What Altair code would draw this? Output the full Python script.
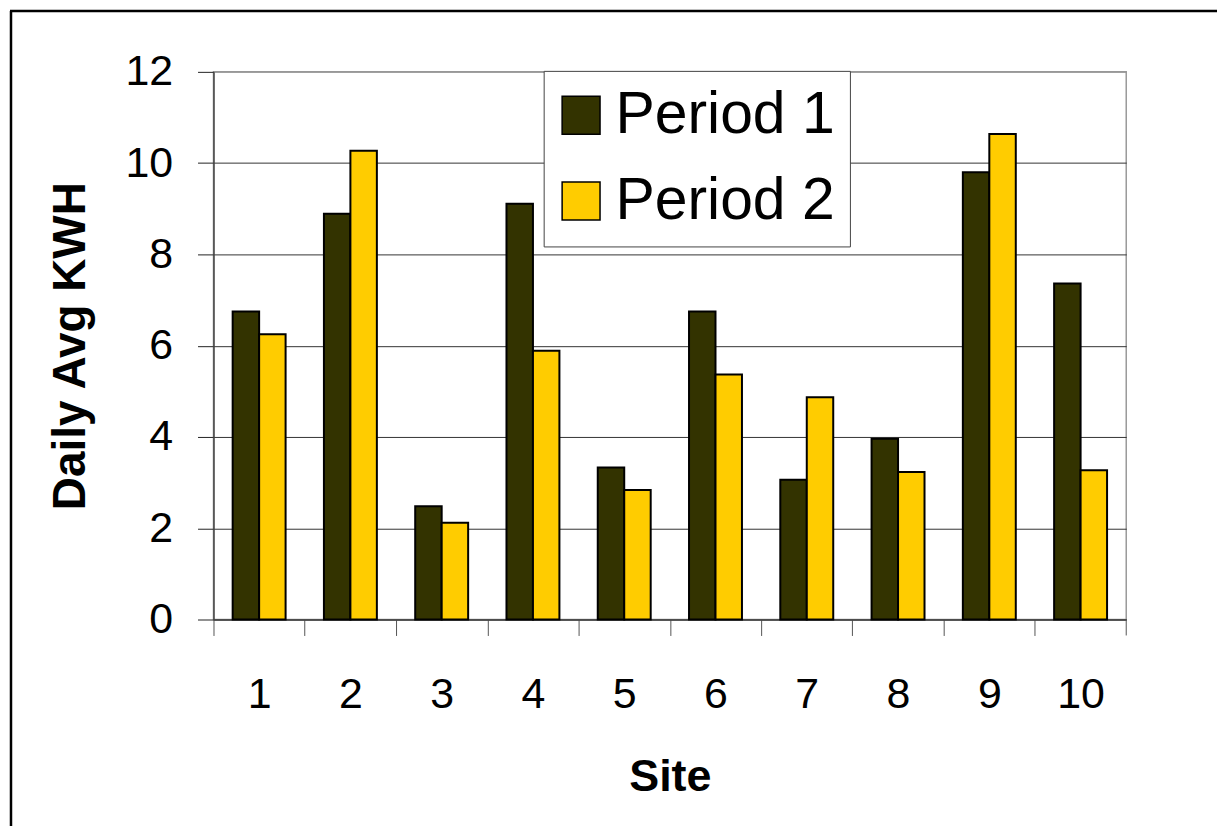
import altair as alt
import pandas as pd

sites = ["1", "2", "3", "4", "5", "6", "7", "8", "9", "10"]
period1 = [6.75, 8.89, 2.48, 9.11, 3.33, 6.75, 3.06, 3.96, 9.80, 7.36]
period2 = [6.25, 10.27, 2.12, 5.89, 2.84, 5.37, 4.87, 3.23, 10.64, 3.27]
periods = ["Period 1", "Period 2"]
colors = ["#333300", "#FFCC00"]
y_ticks = [0, 2, 4, 6, 8, 10, 12]

rows = []
for s, a, b in zip(sites, period1, period2):
    rows.append({"Site": s, "Period": periods[0], "KWH": a})
    rows.append({"Site": s, "Period": periods[1], "KWH": b})
df = pd.DataFrame(rows)

FONT = "Liberation Sans"
W, H = 915, 549
STEP = W / len(sites)

bars = alt.Chart(df).mark_bar(stroke="black", strokeWidth=2).encode(
    x=alt.X(
        "Site:N",
        sort=sites,
        scale=alt.Scale(paddingInner=0.42, paddingOuter=0.21),
        axis=alt.Axis(
            title="Site",
            labelAngle=0,
            labelFont=FONT,
            labelFontSize=43,
            labelColor="black",
            labelPadding=38,
            tickOffset=-STEP / 2,
            labelOffset=STEP / 2,
            tickSize=16,
            tickColor="#555555",
            tickWidth=1,
            domainColor="#444444",
            domainWidth=1.5,
            titleFont=FONT,
            titleFontSize=45,
            titleFontWeight="bold",
            titleColor="black",
            titlePadding=38,
        ),
    ),
    xOffset=alt.XOffset("Period:N", sort=periods, scale=alt.Scale(paddingInner=0, paddingOuter=0)),
    y=alt.Y(
        "KWH:Q",
        scale=alt.Scale(domain=[0, 12]),
        axis=alt.Axis(
            title="Daily Avg KWH",
            values=y_ticks,
            labelFont=FONT,
            labelFontSize=43,
            labelColor="black",
            labelPadding=25,
            tickSize=16,
            tickColor="#222222",
            tickWidth=1,
            domainColor="#444444",
            domainWidth=1.5,
            grid=True,
            gridColor={"condition": {"test": "datum.value == 12", "value": "#999999"}, "value": "#333333"},
            gridWidth=1,
            titleFont=FONT,
            titleFontSize=46,
            titleFontWeight="bold",
            titleColor="black",
            titlePadding=30,
        ),
    ),
    color=alt.Color(
        "Period:N",
        scale=alt.Scale(domain=periods, range=colors),
        legend=alt.Legend(
            title=None,
            orient="none",
            legendX=331,
            legendY=-1,
            fillColor="white",
            strokeColor="#444444",
            padding=15,
            rowPadding=26,
            symbolType="square",
            symbolSize=1444,
            symbolStrokeColor="black",
            symbolStrokeWidth=1.5,
            symbolOpacity=1,
            symbolOffset=-7,
            labelFont=FONT,
            labelFontSize=59,
            labelColor="black",
            labelOffset=5,
            labelLimit=400,
        ),
    ),
)

frame = alt.Data(values=[{}])
top_border = alt.Chart(frame).mark_rule(color="black", strokeWidth=2.5).encode(
    x=alt.value(-204), x2=alt.value(1006), y=alt.value(-61)
)
left_border = alt.Chart(frame).mark_rule(color="black", strokeWidth=2.5).encode(
    x=alt.value(-203), y=alt.value(-61), y2=alt.value(756)
)
last_tick = alt.Chart(frame).mark_rule(color="#555555", strokeWidth=1).encode(
    x=alt.value(W), y=alt.value(H), y2=alt.value(H + 16)
)

chart = alt.layer(bars, top_border, left_border, last_tick).properties(
    width=W, height=H, padding=0, background="white"
).configure_view(stroke="#999999", strokeWidth=1.5)

chart.save("out.html", embed_options={"renderer": "svg", "actions": False})
